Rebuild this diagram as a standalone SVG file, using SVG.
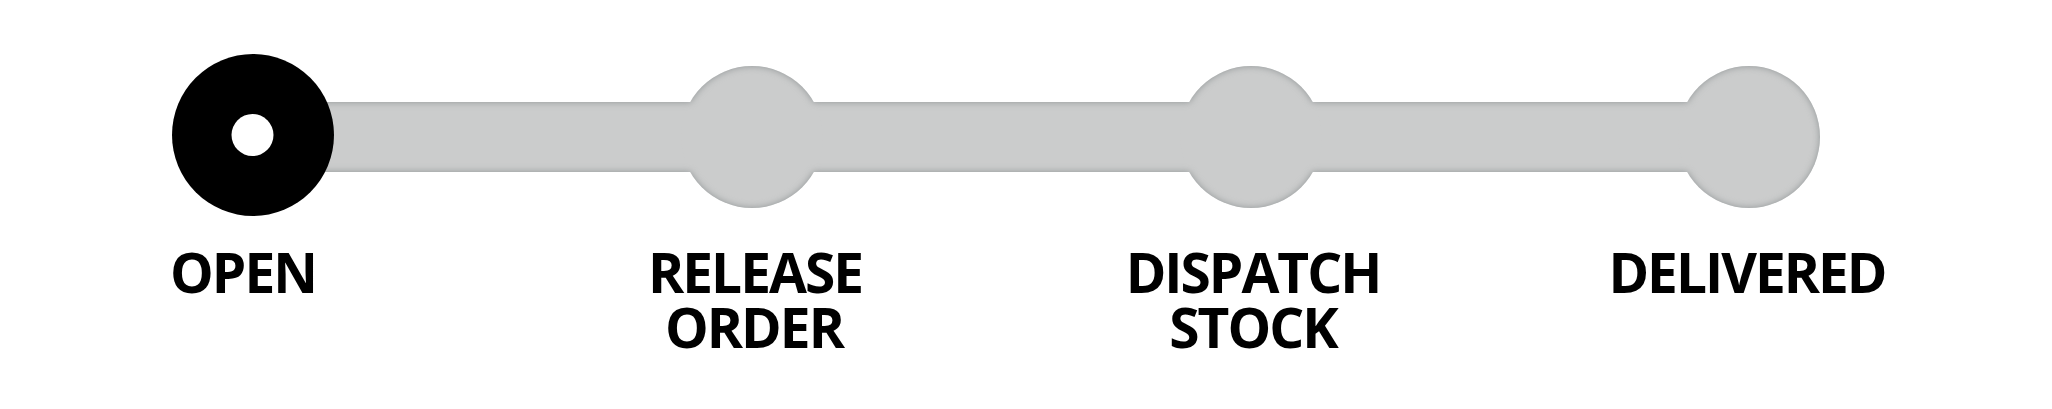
<svg xmlns="http://www.w3.org/2000/svg" width="2052" height="409" viewBox="0 0 2052 409">
  <style>
    .track { fill: #cbcccc; }
    .label { font-family: "Open Sans", "Liberation Sans", sans-serif; font-weight: 700; font-size: 55px; letter-spacing: -2px; fill: #000; text-anchor: middle; }
  </style>
  <defs>
    <filter id="inset" x="-5%" y="-30%" width="110%" height="160%" color-interpolation-filters="sRGB">
      <feFlood flood-color="#8a8f91" flood-opacity="0.9" result="col"/>
      <feComposite in="col" in2="SourceAlpha" operator="out" result="inv"/>
      <feGaussianBlur in="inv" stdDeviation="3.5" result="blur"/>
      <feComposite in="blur" in2="SourceAlpha" operator="in" result="shadow"/>
      <feMerge>
        <feMergeNode in="SourceGraphic"/>
        <feMergeNode in="shadow"/>
      </feMerge>
    </filter>
  </defs>
  <rect width="2052" height="409" fill="#ffffff"/>

  <g id="track" filter="url(#inset)">
    <g id="connectors">
      <rect class="track" x="253" y="102" width="499" height="70"/>
      <rect class="track" x="752" y="102" width="499" height="70"/>
      <rect class="track" x="1251" y="102" width="499" height="70"/>
    </g>
    <g id="node-release-order">
      <circle class="track" cx="752" cy="137" r="71"/>
    </g>
    <g id="node-dispatch-stock">
      <circle class="track" cx="1251" cy="137" r="71"/>
    </g>
    <g id="node-delivered">
      <circle class="track" cx="1749" cy="137" r="71"/>
    </g>
  </g>

  <g id="node-open">
    <circle cx="253" cy="135" r="81" fill="#000"/>
    <circle cx="252.5" cy="135" r="21" fill="#fff"/>
  </g>

  <g id="labels">
    <text id="label-open" class="label" x="243" y="293">OPEN</text>
    <text id="label-release-order" class="label" x="755" y="293">RELEASE</text>
    <text class="label" x="754" y="348">ORDER</text>
    <text id="label-dispatch-stock" class="label" x="1253" y="293">DISPATCH</text>
    <text class="label" x="1253" y="348">STOCK</text>
    <text id="label-delivered" class="label" x="1747" y="293">DELIVERED</text>
  </g>
</svg>
